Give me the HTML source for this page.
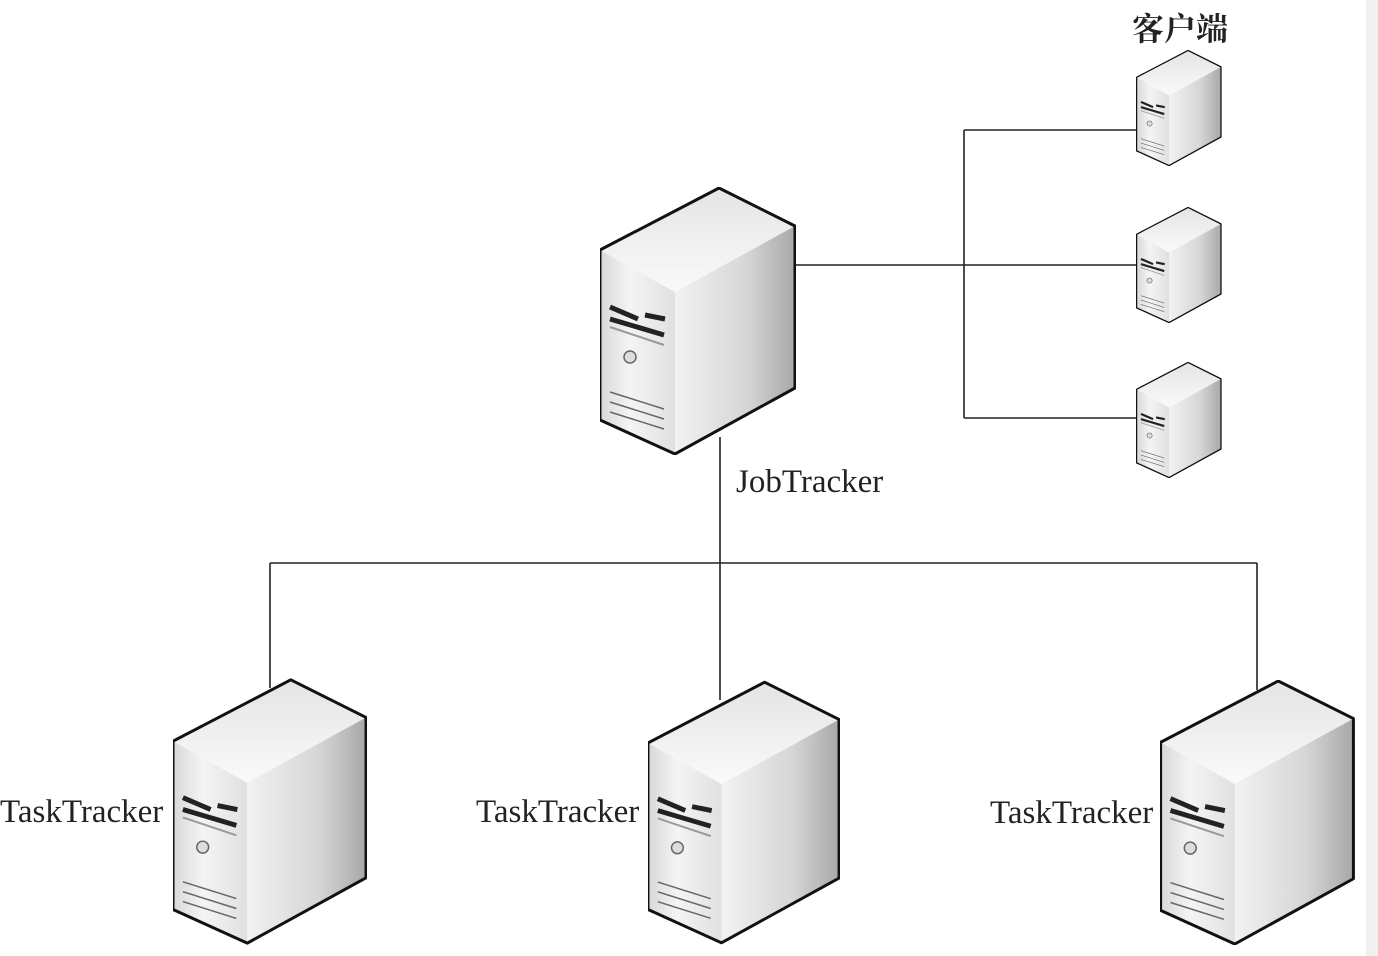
<!DOCTYPE html>
<html><head><meta charset="utf-8"><style>
html,body{margin:0;padding:0;background:#fff;}
body{width:1378px;height:956px;position:relative;overflow:hidden;}
.t{position:absolute;font-family:"Liberation Serif","Noto Serif CJK SC",serif;font-size:33px;color:#222;white-space:nowrap;}
</style></head><body>
<div style="position:absolute;left:1366px;top:0;width:12px;height:956px;background:#f0f0f0"></div>
<svg width="1378" height="956" style="position:absolute;left:0;top:0">
<defs>
<linearGradient id="gf" x1="0" y1="0" x2="1" y2="0"><stop offset="0" stop-color="#d8d8d8"/><stop offset="0.4" stop-color="#f4f4f4"/><stop offset="1" stop-color="#e0e0e0"/></linearGradient>
<linearGradient id="gs" x1="0" y1="0" x2="1" y2="0"><stop offset="0" stop-color="#f2f2f2"/><stop offset="0.6" stop-color="#d6d6d6"/><stop offset="1" stop-color="#a8a8a8"/></linearGradient>
<linearGradient id="gt" x1="0" y1="0" x2="0" y2="1"><stop offset="0" stop-color="#e4e4e4"/><stop offset="1" stop-color="#fafafa"/></linearGradient>
<symbol id="srv" viewBox="0 0 196 268">
<polygon points="0,63 119,1 195,39 75,105" fill="url(#gt)"/>
<polygon points="0,63 75,105 75,267 0,233" fill="url(#gf)"/>
<polygon points="75,105 195,39 195,201 75,267" fill="url(#gs)"/>
<path d="M10,120 L38,132 M45,128 L65,132 M10,132 L64,148" stroke="#222" stroke-width="5" fill="none"/>
<path d="M10,140 L64,158" stroke="#999" stroke-width="2" fill="none"/>
<circle cx="30" cy="170" r="6" fill="#ddd" stroke="#666" stroke-width="1.5"/>
<path d="M10,205 L64,222 M10,215 L64,232 M10,225 L64,242" stroke="#666" stroke-width="1.5" fill="none"/>
<polygon points="0,63 119,1 195,39 195,201 75,267 0,233" fill="none" stroke="#111" stroke-width="3" stroke-linejoin="round"/>
</symbol>
</defs>
<g stroke="#222" stroke-width="1.6" fill="none">
<path d="M964,130 V418 M964,130 H1138 M796,265 H1138 M964,418 H1138"/>
<path d="M720,437 V700 M270,563 H1257 M270,563 V688 M1257,563 V690"/>
</g>
<use href="#srv" x="600" y="187" width="196" height="268"/>
<use href="#srv" x="173" y="678" width="194" height="267"/>
<use href="#srv" x="648" y="680" width="192" height="265"/>
<use href="#srv" x="1160" y="680" width="195" height="265"/>
<use href="#srv" x="1136" y="50" width="86" height="116"/>
<use href="#srv" x="1136" y="207" width="86" height="116"/>
<use href="#srv" x="1136" y="362" width="86" height="116"/>
</svg>
<div class="t" style="left:736px;top:464px">JobTracker</div>
<div class="t" style="left:0px;top:794px">TaskTracker</div>
<div class="t" style="left:476px;top:794px">TaskTracker</div>
<div class="t" style="left:990px;top:795px">TaskTracker</div>
<div class="t" style="left:1132px;top:4px;font-weight:bold;font-size:32px">客户端</div>
</body></html>
